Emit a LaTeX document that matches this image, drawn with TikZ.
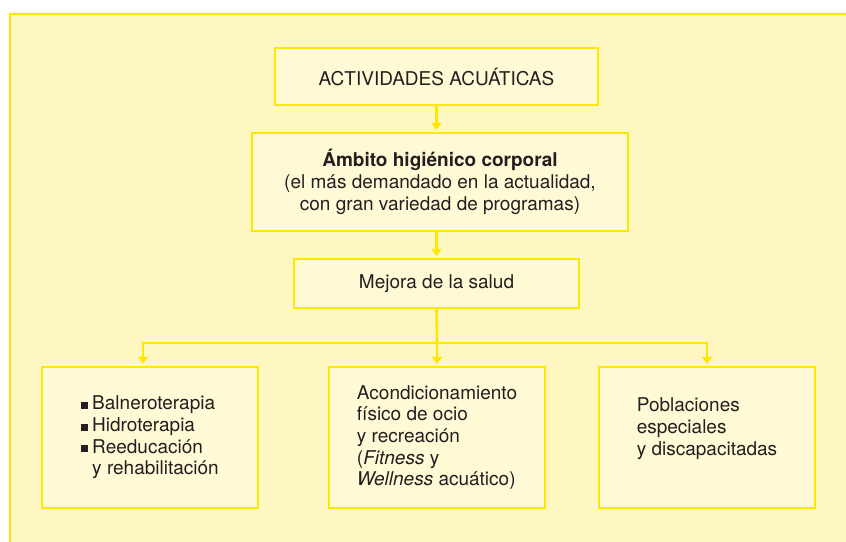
\documentclass[tikz,border=0pt]{standalone}
\usepackage{fontspec}
\setmainfont{TeX Gyre Heros}
\usetikzlibrary{arrows.meta}
\definecolor{ybord}{HTML}{FFE800}
\definecolor{ybg}{HTML}{FFF7C2}
\definecolor{ybox}{HTML}{FFF9D6}
\definecolor{txt}{HTML}{231F20}
\newcommand{\sqb}{\makebox[11pt][l]{\rule[1pt]{7pt}{7pt}}}
\begin{document}
\begin{tikzpicture}[x=1pt,y=-1pt,
  every node/.style={font=\fontsize{19}{21.7}\selectfont, text=txt},
  boxn/.style={draw=ybord, line width=2.2pt, fill=ybox, rectangle, inner sep=0pt},
  conn/.style={draw=ybord, line width=2.6pt},
  arr/.style={conn, -{Triangle[width=10pt,length=7pt]}, shorten >=2pt}]
\useasboundingbox (0,0) rectangle (846,541);
\clip (0,0) rectangle (846,541);
\fill[white] (0,0) rectangle (846,541);
\draw[draw=ybord, line width=2.5pt, fill=ybg] (10,14) rectangle (860,560);

\node[boxn, minimum width=323pt, minimum height=57pt] (b1) at (436.5,76.5) {ACTIVIDADES ACUÁTICAS};
\node[boxn, minimum width=376pt, minimum height=98pt, align=center] (b2) at (440,182)
  {\textbf{Ámbito higiénico corporal}\\(el más demandado en la actualidad,\\con gran variedad de programas)};
\node[boxn, minimum width=285pt, minimum height=49pt] (b3) at (436.5,283.5) {Mejora de la salud};

\node[boxn, minimum width=216pt, minimum height=141pt, align=left] (bl) at (150,437.5)
  {\sqb Balneroterapia\\\sqb Hidroterapia\\\sqb Reeducación\\\hspace*{11pt}y rehabilitación};
\node[boxn, minimum width=216pt, minimum height=141pt, align=left] (bm) at (437,437.5)
  {Acondicionamiento\\físico de ocio\\y recreación\\(\textit{Fitness} y\\\textit{Wellness} acuático)};
\node[boxn, minimum width=216pt, minimum height=141pt, align=left] (br) at (707,437.5)
  {Poblaciones\\especiales\\y discapacitadas\\\mbox{}};

\coordinate (j) at (437,343);
\draw[arr] (b1.south) -- (b1.south |- b2.north);
\draw[arr] (b2.south -| b3.north) -- (b3.north);
\draw[conn] (b3.south) -- (j);
\draw[arr] (j) -| ([xshift=-7pt]bl.north);
\draw[arr] (j) -- (bm.north);
\draw[arr] (j) -| (br.north);
\end{tikzpicture}
\end{document}
